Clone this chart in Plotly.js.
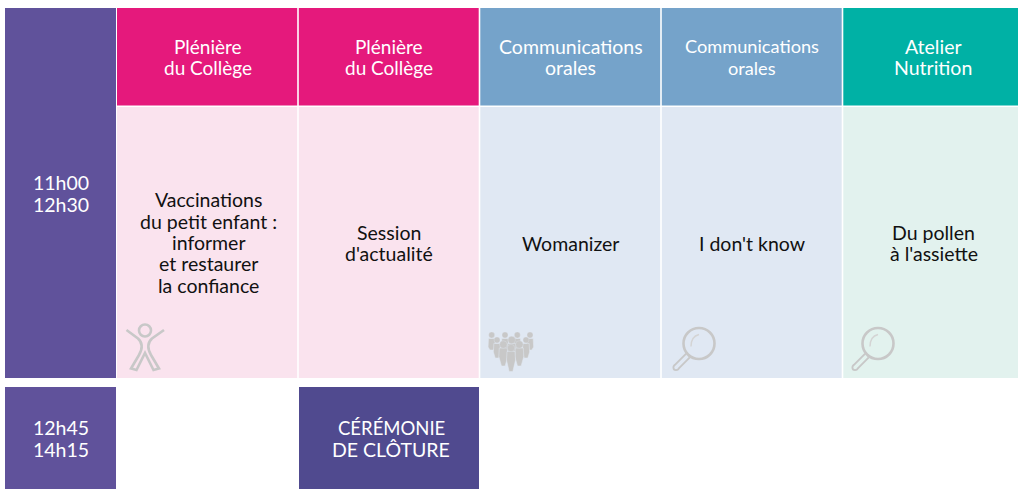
<!DOCTYPE html>
<html><head><meta charset="utf-8">
<script src="https://cdn.plot.ly/plotly-3.0.1.min.js"></script>
<style>html,body{margin:0;padding:0;background:#fff}#c{width:1018px;height:489px}</style>
</head><body><div id="c"></div>
<script>
// Schedule content (one entry per printed line)
const timeSlots = [["11h00", "12h30"], ["12h45", "14h15"]];
const headers = [["Plénière", "du Collège"], ["Plénière", "du Collège"], ["Communications", "orales"], ["Communications", "orales"], ["Atelier", "Nutrition"]];
const sessions = [["Vaccinations", "du petit enfant :", "informer", "et restaurer", "la confiance"], ["Session", "d'actualité"], ["Womanizer"], ["I don't know"], ["Du pollen", "à l'assiette"]];
const closing = ["CÉRÉMONIE", "DE CLÔTURE"];

// Grid geometry (axis units = pixels of the programme sheet)
const colEdges = [117, 298, 479.5, 661, 842.5, 1024];
const timeCol = [5, 116];
const headRow = [8, 105.5];
const bodyRow = [107, 378];
const row2 = [387, 489];
const closeCol = [299, 479];
const LINE = 21.3;

// Colours
const cPurple = "#60529b", cClose = "#504a8f", cGray = "#c8c8c8";
const headColors = ["#e5197c", "#e5197c", "#75a3ca", "#75a3ca", "#00b1a5"];
const bodyColors = ["#fae3ee", "#fae3ee", "#e0e8f3", "#e0e8f3", "#e2f2ee"];

const FONT = "Lato, 'Open Sans', sans-serif";

function cell(x0, x1, y0, y1, color, name) {
  return {type: "bar", x: [(x0 + x1) / 2], width: [x1 - x0], base: [y0], y: [y1 - y0],
    marker: {color: color, line: {width: 0}}, name: name, hoverinfo: "skip", showlegend: false};
}
const traces = [];
traces.push(cell(timeCol[0], timeCol[1], headRow[0], bodyRow[1], cPurple, "11h00"));
traces.push(cell(timeCol[0], timeCol[1], row2[0], row2[1], cPurple, "12h45"));
traces.push(cell(closeCol[0], closeCol[1], row2[0], row2[1], cClose, "Clôture"));
headers.forEach((h, i) => {
  const a = colEdges[i] + (i ? 0.8 : 0), b = colEdges[i + 1] - 0.8;
  traces.push(cell(a, b, headRow[0], headRow[1], headColors[i], "h" + i));
  traces.push(cell(a, b, bodyRow[0], bodyRow[1], bodyColors[i], "b" + i));
});

const anns = [];
function block(x, cy, lines, color, sizes) {
  lines.forEach((t, k) => {
    const size = Array.isArray(sizes) ? sizes[k] : sizes;
    anns.push({x: x, y: cy + (k - (lines.length - 1) / 2) * LINE, xref: "x", yref: "y", text: t,
      showarrow: false, align: "center", xanchor: "center", yanchor: "middle",
      borderpad: 0, font: {family: FONT, size: size, color: color}});
  });
}
block(61, 193.5, timeSlots[0], "#fff", 19.5);
block(61, 438.5, timeSlots[1], "#fff", 19.5);
block(391, 438.5, closing, "#fff", [18.5, 19.5]);
const headSizes = [19, 19, 19.5, 18.2, 19.5];
const headX = [207.5, 389, 570.5, 752, 933];
headers.forEach((h, i) => block(headX[i], 57, h, "#fff", headSizes[i]));
const bodyX = [208.5, 389, 570, 751.5, 933.5];
const bodyY = [242.5, 243, 243.5, 243.5, 243];
sessions.forEach((s, i) => block(bodyX[i], bodyY[i], s, "#111", 19.5));

// Icons
const shapes = [];
const stroke = (path, w, col) => shapes.push({type: "path", xref: "x", yref: "y", path: path,
  line: {color: col || cGray, width: w}, fillcolor: "rgba(0,0,0,0)", layer: "above"});
const ring = (cx, cy, r, w, col, fill) => shapes.push({type: "circle", xref: "x", yref: "y",
  x0: cx - r, x1: cx + r, y0: cy - r, y1: cy + r, line: {color: col || cGray, width: w},
  fillcolor: fill || "rgba(0,0,0,0)", layer: "above"});

// Person
ring(145, 330.5, 6, 2.6);
stroke("M126.5,330 L138,338.5 C143,343 143,348 139,355 L131,368.5 L136.5,370 L145,353 L153.5,370 L159,368.5 L151,355 C147,348 147,343 152,338.5 L164,330", 2.6);

// Magnifier
function magnifier(cx, cy, bg) {
  ring(cx, cy, 15.5, 2.6);
  stroke(`M${cx - 11},${cy + 12} L${cx - 23},${cy + 24}`, 7);
  ring(cx - 23, cy + 24, 2.6, 1.8, cGray, bg);
  stroke(`M${cx - 11.5},${cy + 12.5} L${cx - 23},${cy + 24}`, 3.2, bg);
  stroke(`M${cx - 8},${cy + 3} Q${cx - 8},${cy - 7} ${cx},${cy - 9}`, 1.4, "#d4d4d4");
}
magnifier(699, 343.5, bodyColors[3]);
magnifier(878, 343.5, bodyColors[4]);

// Crowd
const crowdX = [491.7, 530, 505, 517.3, 497, 526, 511.7, 503.3, 519.3, 511];
const crowdHead = [335, 335, 335, 335, 340, 340, 340, 344.5, 344.5, 348];
const crowdFoot = [350, 350, 350, 350, 358, 358, 358, 366, 366, 371.5];
crowdX.forEach((x, i) => {
  const h = crowdHead[i], f = crowdFoot[i], k = i > 5 ? 1.25 : 1;
  shapes.push({type: "path", xref: "x", yref: "y", layer: "above",
    path: `M${x - 3.2 * k},${h + 3.5} L${x + 3.2 * k},${h + 3.5} L${x + 3.6 * k},${h + 12} L${x + 1.8},${f} L${x - 1.8},${f} L${x - 3.6 * k},${h + 12} Z`,
    fillcolor: cGray, line: {color: bodyColors[2], width: 0.5}});
  shapes.push({type: "circle", xref: "x", yref: "y", layer: "above",
    x0: x - 3 * k, x1: x + 3 * k, y0: h - 3 * k, y1: h + 3 * k,
    fillcolor: cGray, line: {color: bodyColors[2], width: 0.3}});
});

const layout = {
  width: 1018, height: 489, margin: {l: 0, r: 0, t: 0, b: 0, pad: 0},
  paper_bgcolor: "#fff", plot_bgcolor: "#fff", showlegend: false, barmode: "overlay",
  xaxis: {range: [0, 1018], visible: false, fixedrange: true},
  yaxis: {range: [489, 0], visible: false, fixedrange: true},
  annotations: anns, shapes: shapes, font: {family: FONT}
};
Plotly.newPlot("c", traces, layout, {staticPlot: true, displayModeBar: false});
</script></body></html>
